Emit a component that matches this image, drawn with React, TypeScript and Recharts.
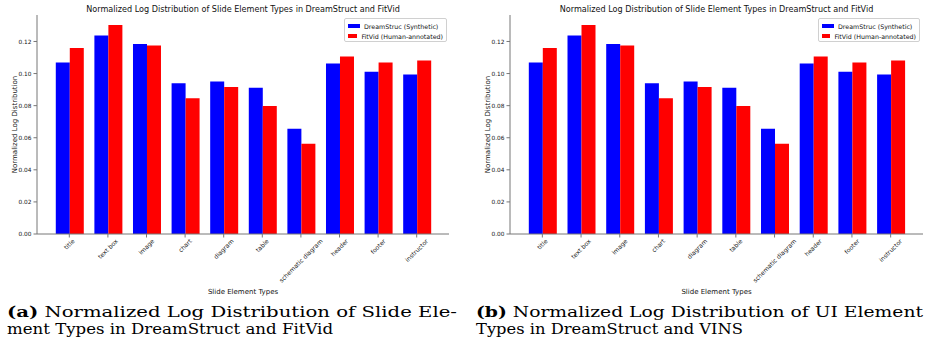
import React from 'react';
import { BarChart, Bar, XAxis, YAxis, Legend, Label } from 'recharts';

const categories = ['title', 'text box', 'image', 'chart', 'diagram', 'table', 'schematic diagram', 'header', 'footer', 'instructor'];
const dreamStruct = [0.1069, 0.1237, 0.1185, 0.0939, 0.095, 0.0912, 0.0656, 0.1062, 0.1012, 0.0994];
const fitVid = [0.116, 0.1302, 0.1175, 0.0846, 0.0916, 0.0798, 0.0562, 0.1106, 0.1069, 0.1081];
const yTicks = [0, 0.02, 0.04, 0.06, 0.08, 0.1, 0.12];
const seriesNames = ['DreamStruc (Synthetic)', 'FitVid (Human-annotated)'];
const chartTitle = 'Normalized Log Distribution of Slide Element Types in DreamStruct and FitVid';
const xLabel = 'Slide Element Types';
const yLabel = 'Normalized Log Distribution';

const data = categories.map((c, i) => ({ name: c, ds: dreamStruct[i], fv: fitVid[i] }));

const FONT = 'DejaVu Sans';
const AXIS = '#777';
const TXT = '#111';
const TICK_FS = 5.8;
const XTICK_FS = 6.1;

let ctx: CanvasRenderingContext2D | null = null;
const measure = (t: string, fs: number) => {
  if (!ctx) ctx = document.createElement('canvas').getContext('2d');
  if (!ctx) return t.length * fs * 0.55;
  ctx.font = `${fs}px "${FONT}"`;
  const w = ctx.measureText(t).width;
  return isFinite(w) && w > 0 ? w : t.length * fs * 0.55;
};

const XTick = (props: any) => {
  const { x, y, payload } = props;
  const t = String(payload && payload.value);
  const L = measure(t, XTICK_FS);
  const W = (L + XTICK_FS) * 0.7071;
  const cx = Number(x);
  const cy = Number(y) - 1.5 + W / 2;
  return (
    <g transform={`translate(${cx},${cy}) rotate(-45)`}>
      <text x={0} y={0} dy="0.35em" textAnchor="middle" fontSize={XTICK_FS} fontFamily={FONT} fill={TXT}>{t}</text>
    </g>
  );
};

const LegendBox = (props: any) => {
  const items = props.payload || [];
  return (
    <div style={{ border: '1px solid #d0d0d0', borderRadius: 2, background: '#fff', padding: '2px 3px', boxSizing: 'border-box', width: '100%', height: '100%' }}>
      {items.map((it: any) => (
        <div key={it.value} style={{ display: 'flex', alignItems: 'center', height: 10, fontFamily: FONT, fontSize: 6.3, color: TXT, whiteSpace: 'nowrap' }}>
          <span style={{ display: 'inline-block', width: 12, height: 4.5, background: it.color, marginRight: 4 }} />
          {it.value}
        </div>
      ))}
    </div>
  );
};

type PanelProps = { left: number; width: number; yAxisWidth: number; marginRight: number; legendLeft: number; legendWidth: number };

const Panel = ({ left, width, yAxisWidth, marginRight, legendLeft, legendWidth }: PanelProps) => {
  const height = 300;
  const plotLeft = yAxisWidth;
  const plotWidth = width - yAxisWidth - marginRight;
  return (
    <div style={{ position: 'absolute', left, top: 0, width, height }}>
      <div style={{ position: 'absolute', left: plotLeft, width: plotWidth, top: 4, textAlign: 'center', fontFamily: FONT, fontSize: 8.1, color: TXT, whiteSpace: 'nowrap', lineHeight: '10px' }}>
        {chartTitle}
      </div>
      <BarChart width={width} height={height} data={data} margin={{ top: 15, right: marginRight, left: 0, bottom: 0 }}
        barCategoryGap="15%" barGap={0}>
        <XAxis dataKey="name" interval={0} height={66} tick={XTick} tickSize={3.5} tickLine={{ stroke: AXIS }}
          axisLine={{ stroke: AXIS }} padding={{ left: 13, right: 13 }}>
          <Label value={xLabel} position="insideBottom" offset={6} style={{ fontFamily: FONT, fontSize: 7, fill: TXT }} />
        </XAxis>
        <XAxis xAxisId="top" orientation="top" dataKey="name" height={0} tick={false} tickLine={false} axisLine={{ stroke: AXIS }} />
        <YAxis domain={[0, 0.1365]} ticks={yTicks} width={yAxisWidth} tickSize={3.5} tickLine={{ stroke: AXIS }}
          axisLine={{ stroke: AXIS }} tickFormatter={(v: number) => v.toFixed(2)}
          tick={{ fontFamily: FONT, fontSize: TICK_FS, fill: TXT }}>
          <Label content={(p: any) => {
            const vb = p.viewBox || { x: 0, y: 15, width: yAxisWidth, height: 219 };
            const cx = vb.x + vb.width - 22;
            const cy = vb.y + vb.height / 2;
            return (
              <text x={cx} y={cy} textAnchor="middle" dominantBaseline="central" fontFamily={FONT} fontSize={7} fill={TXT}
                transform={`rotate(-90 ${cx} ${cy})`}>{yLabel}</text>
            );
          }} />
        </YAxis>
        <YAxis yAxisId="right" orientation="right" width={0} tick={false} tickLine={false} axisLine={{ stroke: AXIS }} domain={[0, 0.1365]} />
        <Legend layout="vertical" align="center" verticalAlign="middle" content={<LegendBox />}
          wrapperStyle={{ left: legendLeft, top: 18, width: legendWidth, height: 24, right: 'auto', bottom: 'auto' }} />
        <Bar dataKey="ds" name={seriesNames[0]} fill="#0000ff" isAnimationActive={false} />
        <Bar dataKey="fv" name={seriesNames[1]} fill="#ff0000" isAnimationActive={false} />
      </BarChart>
    </div>
  );
};

const CAP_FONT = 'DejaVu Serif';
const CAP_FS = 14.5;

export default function App() {
  return (
    <div style={{ position: 'absolute', left: 0, top: 0, width: 925, height: 347, background: '#fff', overflow: 'hidden' }}>
      <Panel left={0} width={460} yAxisWidth={37} marginRight={11} legendLeft={344} legendWidth={103} />
      <Panel left={460} width={465} yAxisWidth={50} marginRight={2} legendLeft={358} legendWidth={102} />
      <svg width={925} height={347} style={{ position: 'absolute', left: 0, top: 0, pointerEvents: 'none' }}>
        <g fontFamily={CAP_FONT} fontSize={CAP_FS} fill="#000">
          <text x={7} y={317} textLength={450} lengthAdjust="spacingAndGlyphs">
            <tspan fontWeight="bold">(a)</tspan> Normalized Log Distribution of Slide Ele-
          </text>
          <text x={7} y={334} textLength={326} lengthAdjust="spacingAndGlyphs">ment Types in DreamStruct and FitVid</text>
          <text x={476} y={317} textLength={447} lengthAdjust="spacingAndGlyphs">
            <tspan fontWeight="bold">(b)</tspan> Normalized Log Distribution of UI Element
          </text>
          <text x={476} y={334} textLength={267} lengthAdjust="spacingAndGlyphs">Types in DreamStruct and VINS</text>
        </g>
      </svg>
    </div>
  );
}
